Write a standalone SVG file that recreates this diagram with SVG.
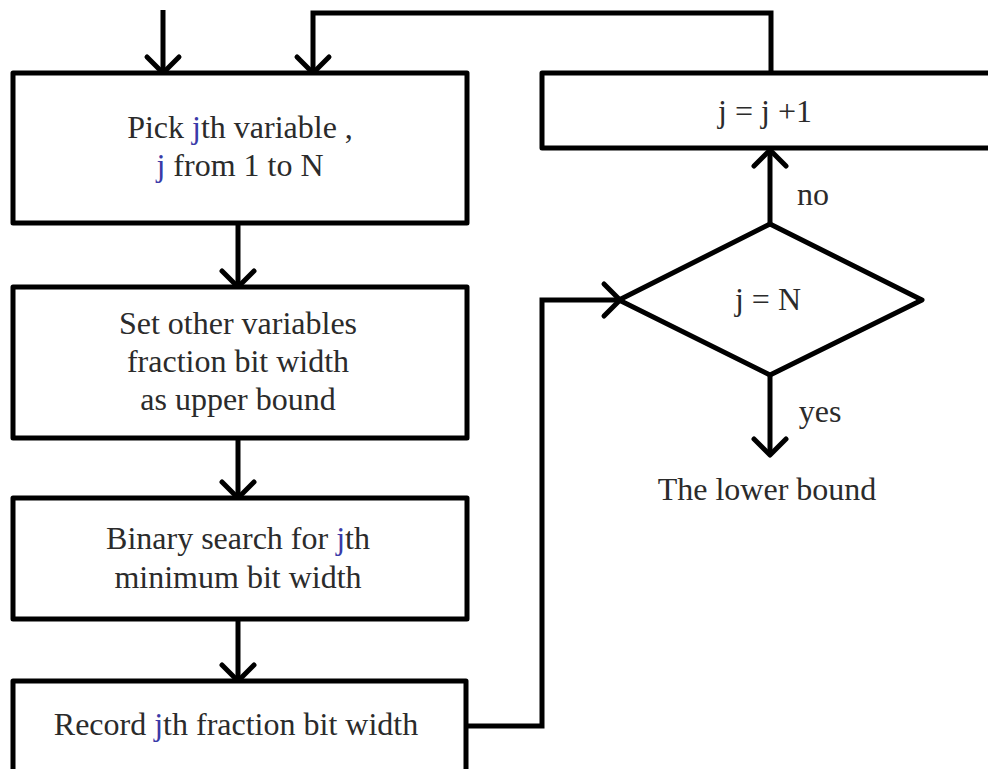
<svg xmlns="http://www.w3.org/2000/svg" width="988" height="769" viewBox="0 0 988 769">
  <defs>
    <marker id="open-arrow" viewBox="0 0 20 20" refX="17" refY="10" markerWidth="20" markerHeight="20" markerUnits="userSpaceOnUse" orient="auto" overflow="visible">
      <polyline points="1,-6 17,10 1,26" fill="none" stroke="#000" stroke-width="5" stroke-linecap="round" stroke-linejoin="round"/>
    </marker>
  </defs>
  <style>
    .box { fill: #fff; stroke: #000; stroke-width: 5; stroke-linejoin: round; }
    .wire { fill: none; stroke: #000; stroke-width: 5; stroke-linejoin: miter; }
    .lbl { font-size: 32px; fill: #2b2b2b; text-anchor: middle; }
    .var { fill: #3a3aa8; }
  </style>
  <rect width="988" height="769" fill="#fff"/>

  <g id="connectors">
    <!-- entry into the first step -->
    <line class="wire" x1="163" y1="10" x2="163" y2="73" marker-end="url(#open-arrow)"/>
    <!-- loop back from the increment step -->
    <polyline class="wire" points="771,73 771,13 313,13 313,73" marker-end="url(#open-arrow)"/>
    <!-- main column -->
    <line class="wire" x1="238" y1="223" x2="238" y2="287" marker-end="url(#open-arrow)"/>
    <line class="wire" x1="238" y1="438" x2="238" y2="498" marker-end="url(#open-arrow)"/>
    <line class="wire" x1="238" y1="619" x2="238" y2="681" marker-end="url(#open-arrow)"/>
    <!-- record step to the decision -->
    <polyline class="wire" points="466,726 542,726 542,300 620,300" marker-end="url(#open-arrow)"/>
    <!-- decision outcomes -->
    <line class="wire" x1="770" y1="224" x2="770" y2="150" marker-end="url(#open-arrow)"/>
    <line class="wire" x1="770" y1="375" x2="770" y2="455" marker-end="url(#open-arrow)"/>
  </g>

  <g font-family="'Liberation Serif', 'Times New Roman', Tinos, 'DejaVu Serif', serif">
    <g id="pick-variable">
      <rect class="box" x="13" y="73" width="454" height="150"/>
      <text class="lbl" x="240" y="138">Pick <tspan class="var">j</tspan>th variable ,</text>
      <text class="lbl" x="240" y="176"><tspan class="var">j</tspan> from 1 to N</text>
    </g>

    <g id="set-others">
      <rect class="box" x="13" y="287" width="454" height="151"/>
      <text class="lbl" x="238" y="334">Set other variables</text>
      <text class="lbl" x="238" y="372">fraction bit width</text>
      <text class="lbl" x="238" y="410">as upper bound</text>
    </g>

    <g id="binary-search">
      <rect class="box" x="13" y="498" width="454" height="121"/>
      <text class="lbl" x="238" y="549">Binary search for <tspan class="var">j</tspan>th</text>
      <text class="lbl" x="238" y="588">minimum bit width</text>
    </g>

    <g id="record-width">
      <rect class="box" x="13" y="681" width="453" height="100"/>
      <text class="lbl" x="236" y="735">Record <tspan class="var">j</tspan>th fraction bit width</text>
    </g>

    <g id="increment">
      <rect class="box" x="542" y="73" width="470" height="75"/>
      <text class="lbl" x="765" y="122">j = j +1</text>
    </g>

    <g id="decision">
      <polygon class="box" points="770,224 922,300 770,375 619,300"/>
      <text class="lbl" x="768" y="310">j = N</text>
      <text class="lbl" x="813" y="205">no</text>
      <text class="lbl" x="820" y="422">yes</text>
    </g>

    <g id="result">
      <text class="lbl" x="767" y="500">The lower bound</text>
    </g>
  </g>
</svg>
